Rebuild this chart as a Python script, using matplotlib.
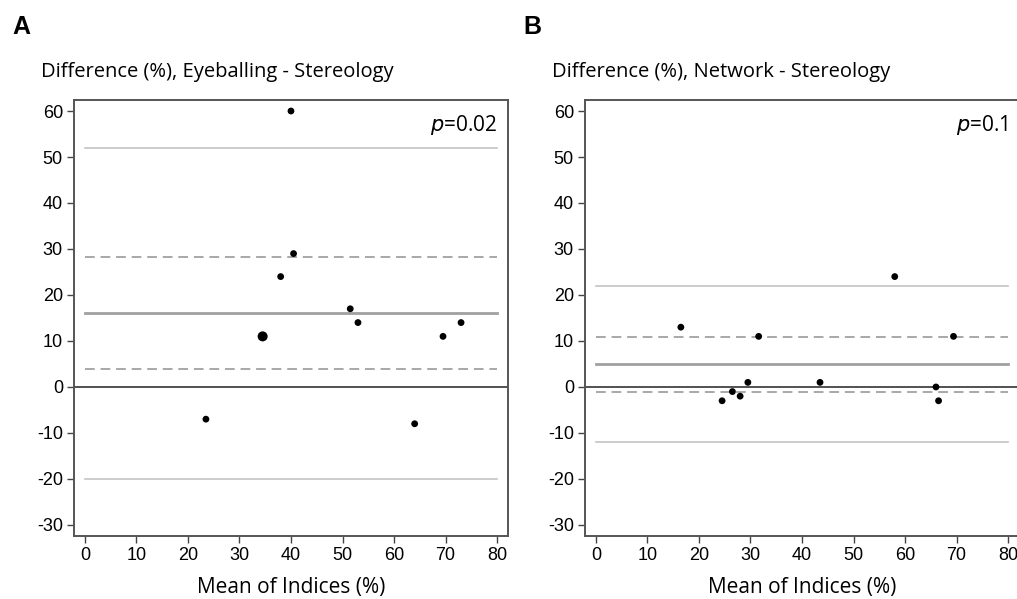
import numpy as np
import matplotlib
matplotlib.use("Agg")
import matplotlib.pyplot as plt

plt.rcParams["axes.unicode_minus"] = False

# Panel A: Eyeballing - Stereology
mean_a = [40, 40.5, 38, 51.5, 53, 34.5, 69.5, 73, 23.5, 64]
diff_a = [60, 29, 24, 17, 14, 11, 11, 14, -7, -8]
size_a = [1, 1, 1, 1, 1, 2, 1, 1, 1, 1]
lines_a = {"mean": 16.1, "ci": (3.8, 28.3), "loa": (-20.0, 51.9)}

# Panel B: Network - Stereology
mean_b = [16.5, 31.6, 58.0, 69.4, 24.5, 26.5, 28.0, 29.5, 43.5, 66.0, 66.5]
diff_b = [13, 11, 24, 11, -3, -1, -2, 1, 1, 0, -3]
size_b = [1] * len(mean_b)
lines_b = {"mean": 4.9, "ci": (-1.1, 10.8), "loa": (-12.0, 21.9)}

panels = [
    ("A", "Difference (%), Eyeballing - Stereology", mean_a, diff_a, size_a, lines_a, "0.02"),
    ("B", "Difference (%), Network - Stereology", mean_b, diff_b, size_b, lines_b, "0.1"),
]

label_font = "Open Sans"
tick_font = "Liberation Sans"

fig = plt.figure(figsize=(10.17, 5.99), dpi=100)
lefts = [74 / 1017, 585 / 1017]

for left, (letter, title, x, y, sz, ln, p) in zip(lefts, panels):
    ax = fig.add_axes([left, 0.1052, 0.4267, 0.7279])
    ax.set_xlim(-2.1, 82.1)
    ax.set_ylim(-32.4, 62.4)

    # limits of agreement, CI of mean, mean
    for v in ln["loa"]:
        ax.plot([0, 80], [v, v], color="#c4c4c4", lw=1.2, zorder=1)
    for v in ln["ci"]:
        ax.plot([0, 80], [v, v], color="#a8a8a8", lw=1.4, dashes=(5, 3), zorder=1)
    ax.plot([0, 80], [ln["mean"], ln["mean"]], color="#a0a0a0", lw=2.0, zorder=1)
    ax.axhline(0, color="#222222", lw=1.1, zorder=2)

    ax.scatter(x, y, s=np.where(np.array(sz) > 1, 52, 24), color="black",
               zorder=3, linewidths=0)

    ax.text(80, 57, "$\\it{p}$=" + p, ha="right", va="center",
            fontsize=15, family=label_font)

    ax.set_xticks(np.arange(0, 81, 10))
    ax.set_yticks(np.arange(-30, 61, 10))
    for lab in ax.get_xticklabels() + ax.get_yticklabels():
        lab.set_family(tick_font)
        lab.set_fontsize(13)
    ax.tick_params(length=5, width=1.0, color="#444444", pad=3)
    for s in ax.spines.values():
        s.set_color("#555555")
        s.set_linewidth(1.4)

    ax.set_xlabel("Mean of Indices (%)", family=label_font, fontsize=15, labelpad=9)

    fx = left - 62 / 1017
    fig.text(fx + 29 / 1017, 1 - 72 / 599, title, family=label_font, fontsize=14.5,
             ha="left", va="center")
    fig.text(fx, 1 - 27 / 599, letter, family="Liberation Sans", fontweight="bold",
             fontsize=18, ha="left", va="center")

fig.savefig("out.png", dpi=100)
